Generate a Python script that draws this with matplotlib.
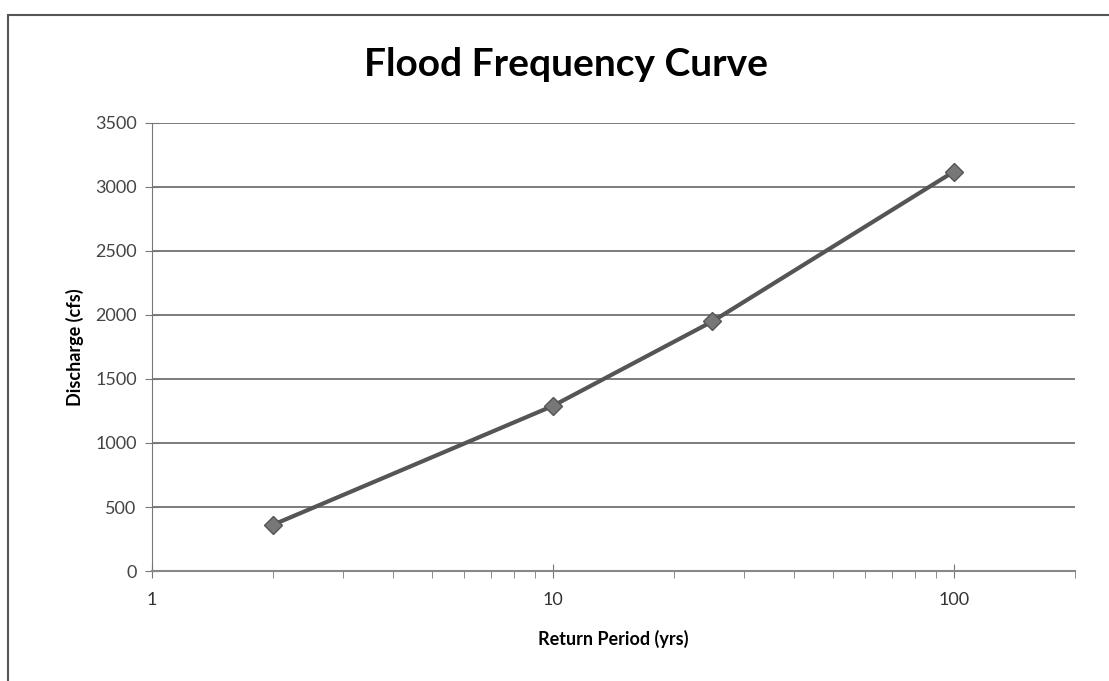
#!/usr/bin/env python3
"""
Flood frequency curve: discharge vs return period on a log axis.
"""

import matplotlib
matplotlib.use("Agg")
import matplotlib.pyplot as plt
from matplotlib.patches import Rectangle
from matplotlib.ticker import LogLocator, NullFormatter, FixedLocator

return_period = [2, 10, 25, 100]
discharge = [360, 1290, 1950, 3120]
y_ticks = [0, 500, 1000, 1500, 2000, 2500, 3000, 3500]
x_ticks = [1, 10, 100]
x_tick_labels = ["1", "10", "100"]


def main():
    plt.rcParams['font.family'] = ['Lato', 'DejaVu Sans']

    fig = plt.figure(figsize=(11.09, 6.81), dpi=100)
    ax = fig.add_axes([0.137, 0.1615, 0.832, 0.658])

    # chart frame
    fig.patches.append(Rectangle((0.007, -0.05), 1.1, 1.028, transform=fig.transFigure,
                                 fill=False, edgecolor='#555555', linewidth=1.5))

    ax.plot(return_period, discharge, color='#555555', linewidth=3,
            marker='D', markersize=9, markerfacecolor='#777777',
            markeredgecolor='#555555', zorder=3)

    ax.set_xscale('log')
    ax.set_xlim(1, 200)
    ax.set_ylim(0, 3500)
    ax.xaxis.set_major_locator(FixedLocator(x_ticks))
    ax.set_xticklabels(x_tick_labels)
    ax.xaxis.set_minor_locator(LogLocator(base=10, subs=range(2, 10)))
    ax.xaxis.set_minor_formatter(NullFormatter())
    ax.set_yticks(y_ticks)

    ax.grid(True, axis='y', color='#666666', linewidth=1.2)
    ax.set_axisbelow(True)
    for side in ('top', 'right'):
        ax.spines[side].set_visible(False)
    ax.spines['left'].set_color('#777777')
    ax.spines['bottom'].set_color('#888888')
    ax.spines['bottom'].set_linewidth(1.5)

    ax.tick_params(axis='y', direction='inout', length=10, color='#777777',
                   labelsize=13, labelcolor='#444444', pad=6)
    ax.tick_params(axis='x', which='major', direction='inout', length=10,
                   color='#777777', labelsize=13, labelcolor='#333333', pad=10)
    ax.tick_params(axis='x', which='minor', direction='out', length=5,
                   color='#777777')

    # title centred on the whole chart area, as in the spreadsheet chart
    fig.text(0.51, 0.905, 'Flood Frequency Curve', fontsize=28, fontweight='bold',
             ha='center', va='center')
    ax.set_xlabel('Return Period (yrs)', fontsize=13, fontweight='bold', labelpad=16)
    ax.set_ylabel('Discharge (cfs)', fontsize=13, fontweight='bold', labelpad=8)

    fig.savefig('out.png', dpi=100)


if __name__ == "__main__":
    main()
